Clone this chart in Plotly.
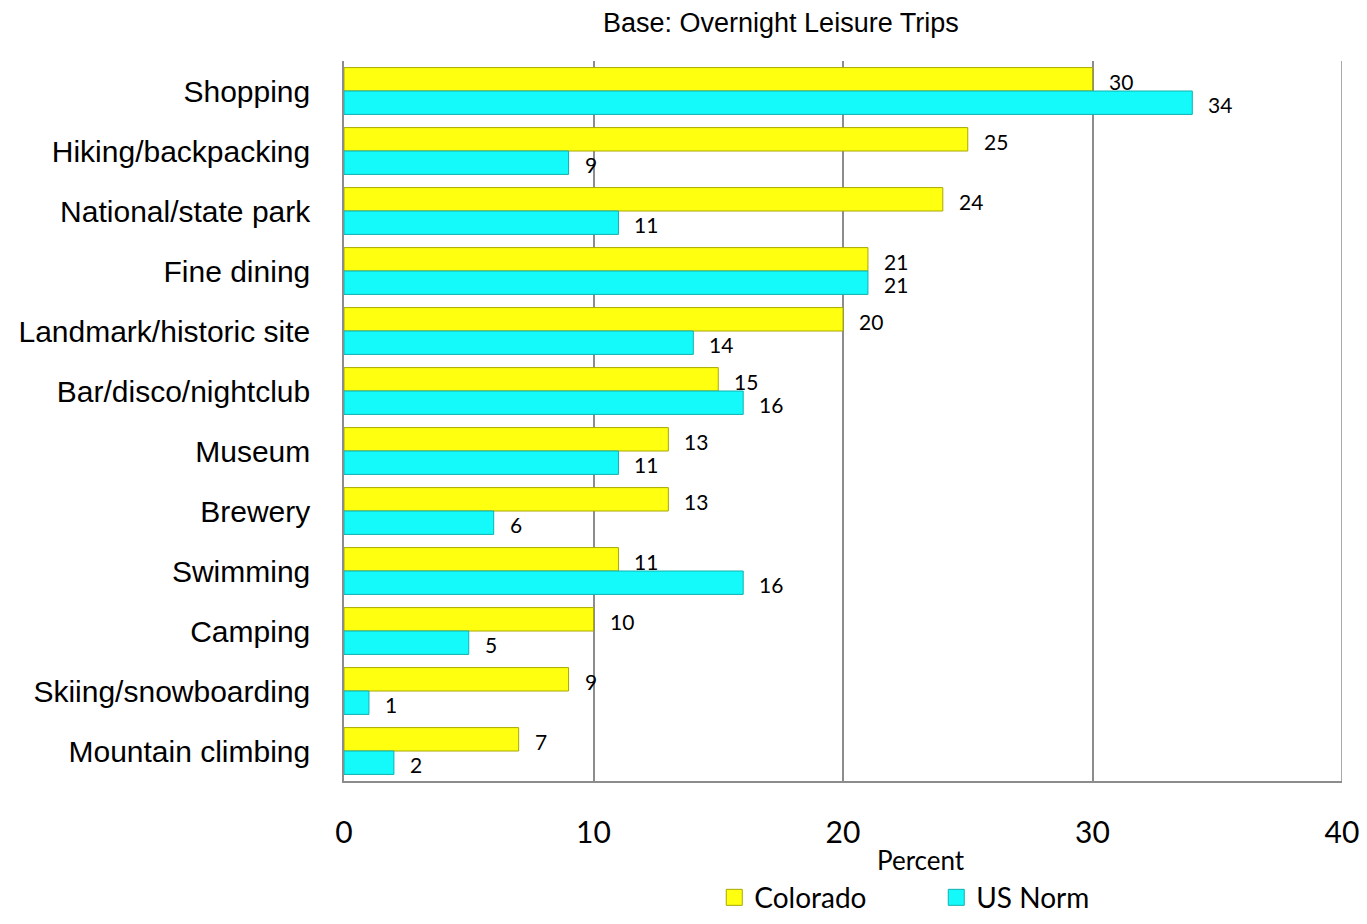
import plotly.graph_objects as go

categories = ["Shopping", "Hiking/backpacking", "National/state park", "Fine dining",
              "Landmark/historic site", "Bar/disco/nightclub", "Museum", "Brewery",
              "Swimming", "Camping", "Skiing/snowboarding", "Mountain climbing"]
colorado = [30, 25, 24, 21, 20, 15, 13, 13, 11, 10, 9, 7]
us_norm = [34, 9, 11, 21, 14, 16, 11, 6, 16, 5, 1, 2]
x_ticks = [0, 10, 20, 30, 40]

LABEL_FONT = "Lato, 'Open Sans', sans-serif"
YELLOW, YELLOW_EDGE = "#FFFF10", "#A8A800"
CYAN, CYAN_EDGE = "#14FAFA", "#10B0B0"
GRID = "#8C8C8C"

fig = go.Figure()
fig.add_trace(go.Bar(
    y=categories, x=colorado, orientation="h", name="Colorado", showlegend=False,
    marker=dict(color=YELLOW, line=dict(color=YELLOW_EDGE, width=1)),
))
fig.add_trace(go.Bar(
    y=categories, x=us_norm, orientation="h", name="US Norm", showlegend=False,
    marker=dict(color=CYAN, line=dict(color=CYAN_EDGE, width=1)),
))
# legend entries with larger square symbols
fig.add_trace(go.Scatter(x=[None], y=[None], mode="markers", name="Colorado",
                         marker=dict(symbol="square", size=16, color=YELLOW,
                                     line=dict(color=YELLOW_EDGE, width=1))))
fig.add_trace(go.Scatter(x=[None], y=[None], mode="markers", name="US Norm",
                         marker=dict(symbol="square", size=16, color=CYAN,
                                     line=dict(color=CYAN_EDGE, width=1))))

annotations = []
for c, v in zip(categories, colorado):
    annotations.append(dict(x=v, y=c, xref="x", yref="y", text=str(v), showarrow=False,
                            xanchor="left", xshift=14, yshift=10,
                            font=dict(family=LABEL_FONT, size=21, color="black")))
for c, v in zip(categories, us_norm):
    annotations.append(dict(x=v, y=c, xref="x", yref="y", text=str(v), showarrow=False,
                            xanchor="left", xshift=14, yshift=-13,
                            font=dict(family=LABEL_FONT, size=21, color="black")))
annotations.append(dict(x=0.438, y=1.0, xref="paper", yref="paper", yanchor="middle", yshift=38,
                        text="Base: Overnight Leisure Trips", showarrow=False, xanchor="center",
                        font=dict(family="Liberation Sans, Arial, sans-serif", size=27, color="black")))
annotations.append(dict(x=0.578, y=0, xref="paper", yref="paper", yanchor="middle", yshift=-79,
                        text="Percent", showarrow=False, xanchor="center",
                        font=dict(family=LABEL_FONT, size=26, color="black")))
fig.update_layout(annotations=annotations)

# right-hand gridline at the last tick (plotly omits a gridline at the plot edge)
fig.add_shape(type="line", xref="x", yref="paper", x0=x_ticks[-1], x1=x_ticks[-1], y0=0, y1=1,
              line=dict(color=GRID, width=1.5), layer="below")

fig.update_layout(
    width=1351, height=908,
    margin=dict(l=336, r=17, t=53, b=135, autoexpand=False),
    paper_bgcolor="white", plot_bgcolor="white",
    barmode="group", bargap=0.22, bargroupgap=0.0,
    showlegend=True,
    legend=dict(orientation="h", x=0.371, xanchor="left", y=-0.162, yanchor="middle",
                font=dict(family=LABEL_FONT, size=28, color="black"),
                itemsizing="trace", traceorder="normal", itemwidth=30,
                entrywidth=177, entrywidthmode="pixels"),
    xaxis=dict(range=[0, 40], tickvals=x_ticks, showgrid=True, gridcolor=GRID, gridwidth=1.5,
               zeroline=False, showline=True, linecolor=GRID, linewidth=1.5,
               ticks="outside", ticklen=24, tickcolor="rgba(0,0,0,0)", ticklabeloverflow="allow",
               tickfont=dict(family=LABEL_FONT, size=30, color="black")),
    yaxis=dict(categoryorder="array", categoryarray=categories, autorange="reversed",
               showline=True, linecolor=GRID, linewidth=1.5, showgrid=False,
               ticks="outside", ticklen=26, tickcolor="rgba(0,0,0,0)",
               tickfont=dict(family="Liberation Sans Narrow, Arial Narrow, Liberation Sans, Arial, sans-serif",
                             size=30, color="black")),
)

fig.write_html("out.html")
